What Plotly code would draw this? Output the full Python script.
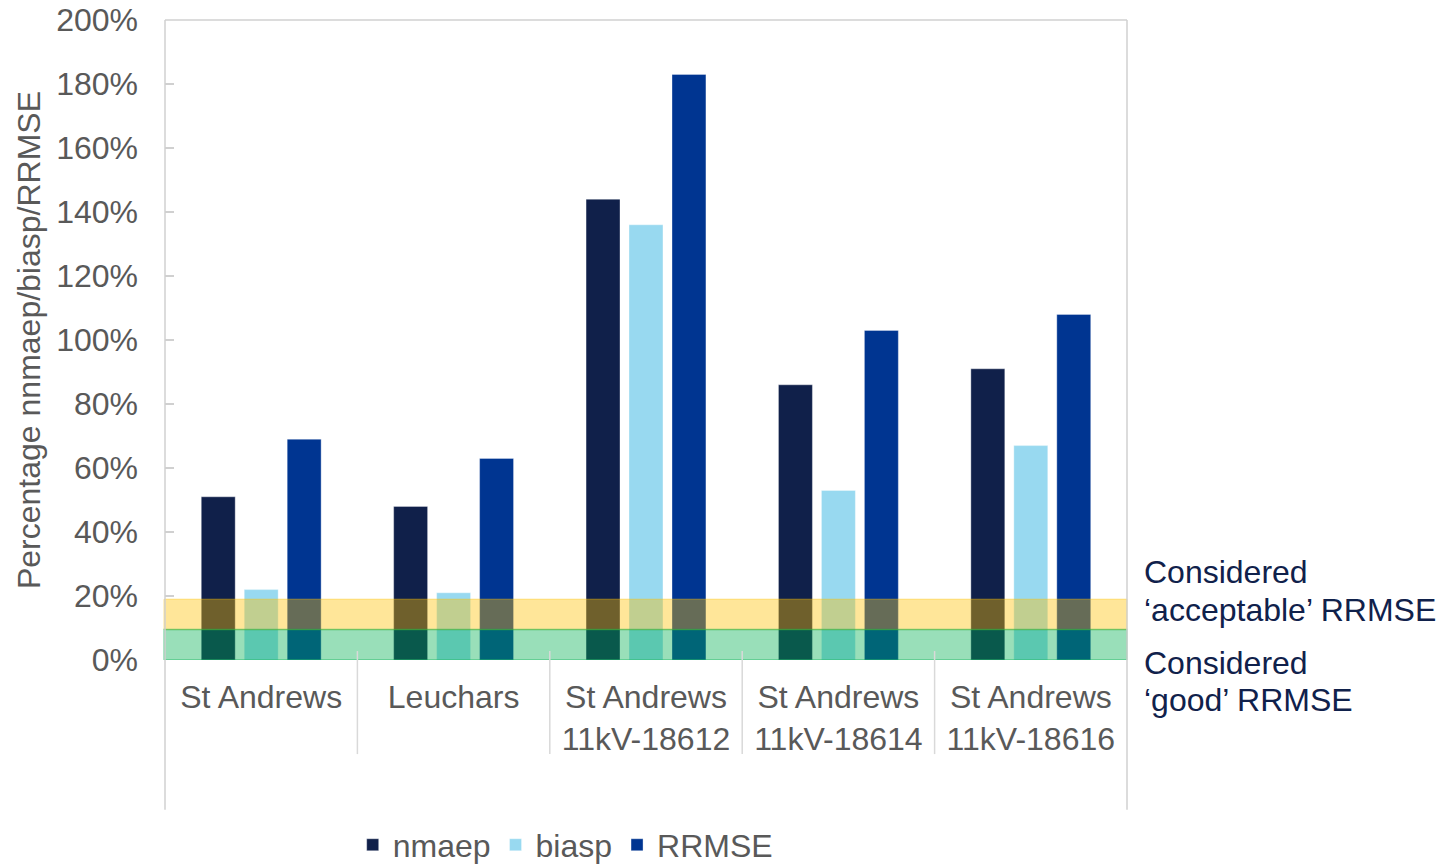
import plotly.graph_objects as go

categories = ["St Andrews", "Leuchars", "St Andrews<br>11kV-18612",
              "St Andrews<br>11kV-18614", "St Andrews<br>11kV-18616"]
nmaep = [51, 48, 144, 86, 91]
biasp = [22, 21, 136, 53, 67]
rrmse = [69, 63, 183, 103, 108]
y_ticks = [0, 20, 40, 60, 80, 100, 120, 140, 160, 180, 200]
y_tick_labels = [f"{v}%" for v in y_ticks]
band_good = [0, 9.5]
band_acceptable = [9.5, 19]
note_lines = ["Considered", "‘acceptable’ RRMSE", "Considered", "‘good’ RRMSE"]

FONT = "Liberation Sans, Arial, sans-serif"
GRAY_TXT = "#595959"
FRAME = "#D0D0D0"
NAVY_TXT = "#10214B"
FS = 32

fig = go.Figure()
series = [("nmaep", nmaep, "#10204A"), ("biasp", biasp, "#98D9F0"), ("RRMSE", rrmse, "#003591")]
for name, vals, col in series:
    fig.add_trace(go.Bar(name=name, x=categories, y=vals, marker_color=col,
                         marker_line=dict(width=1, color="rgba(255,255,255,0.35)")))

shapes = []
shapes.append(dict(type="rect", xref="paper", yref="y", x0=-0.001, x1=1, y0=band_acceptable[0], y1=band_acceptable[1],
                   fillcolor="rgba(255,192,0,0.4)", line=dict(width=1, color="rgba(255,192,0,0.45)"), layer="above"))
shapes.append(dict(type="rect", xref="paper", yref="y", x0=-0.001, x1=1, y0=band_good[0], y1=band_good[1],
                   fillcolor="rgba(0,176,80,0.4)", line=dict(width=1.5, color="rgba(0,176,80,0.45)"), layer="above"))
shapes.append(dict(type="line", xref="paper", yref="paper", x0=0, x1=0, y0=1, y1=-0.234, line=dict(color=FRAME, width=1.5)))
shapes.append(dict(type="line", xref="paper", yref="paper", x0=1, x1=1, y0=1, y1=-0.234, line=dict(color=FRAME, width=1.5)))
shapes.append(dict(type="line", xref="paper", yref="paper", x0=0, x1=1, y0=1, y1=1, line=dict(color=FRAME, width=1.5)))
for i in range(len(categories) - 1):
    shapes.append(dict(type="line", xref="x", yref="paper", x0=i + 0.5, x1=i + 0.5, y0=0.014, y1=-0.147,
                       line=dict(color="#D9D9D9", width=1.5)))

note_y = [0.1375, 0.078, -0.0047, -0.0625]
annotations = [dict(text=t, xref="paper", yref="paper", x=1.0156, y=yy, xanchor="left", yanchor="middle",
                    align="left", showarrow=False, font=dict(family=FONT, size=FS, color=NAVY_TXT))
               for t, yy in zip(note_lines, note_y)]

fig.update_layout(
    width=1440, height=865,
    margin=dict(l=165, r=313, t=20, b=205, autoexpand=False),
    paper_bgcolor="white", plot_bgcolor="white",
    barmode="group", bargap=0.33, bargroupgap=0.21,
    font=dict(family=FONT, size=FS, color=GRAY_TXT),
    shapes=shapes, annotations=annotations,
    legend=dict(orientation="h", x=0.416, xanchor="center", y=-0.289, yanchor="middle",
                font=dict(family=FONT, size=FS, color=GRAY_TXT), bgcolor="rgba(0,0,0,0)",
                itemwidth=30, tracegroupgap=0),
    xaxis=dict(showline=False, showgrid=False, ticks="", tickfont=dict(size=FS, color=GRAY_TXT),
               ticklabelstandoff=15, fixedrange=True),
    yaxis=dict(range=[0, 200], tickvals=y_ticks, ticktext=y_tick_labels, showgrid=False, zeroline=False,
               showline=False, ticks="inside", ticklen=9, tickwidth=1.5, tickcolor=FRAME,
               tickfont=dict(size=FS, color=GRAY_TXT), ticklabelstandoff=26,
               title=dict(text="Percentage nnmaep/biasp/RRMSE", font=dict(size=FS, color=GRAY_TXT), standoff=5),
               automargin=False, fixedrange=True),
)

fig.write_html("out.html", post_script="document.body.style.margin='0px';",
               config={"displayModeBar": False})
